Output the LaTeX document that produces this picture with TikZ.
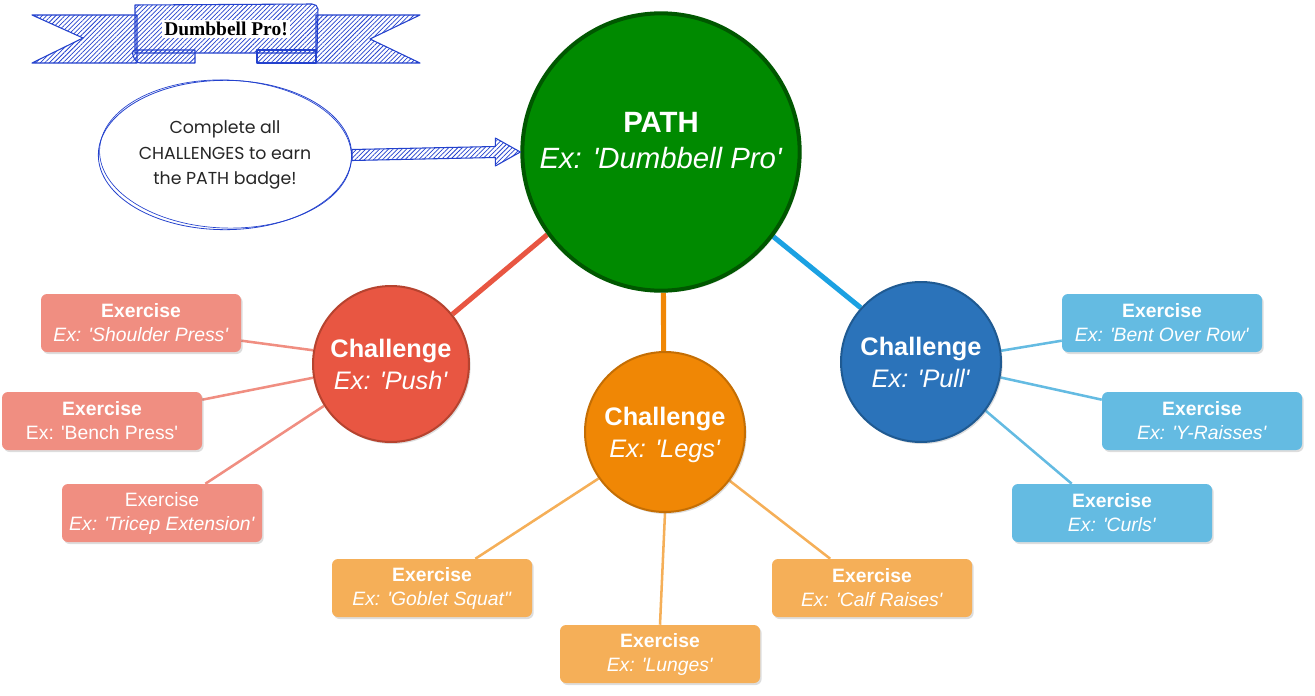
\documentclass[tikz,border=0pt]{standalone}
\usepackage{fontspec}
\newfontfamily\arial{Liberation Sans}
\newfontfamily\timesf{Liberation Serif}
\newfontfamily\handf{Poppins}
\usetikzlibrary{shapes.geometric,patterns.meta,shadows,backgrounds,calc}
\definecolor{pathfill}{HTML}{008A00}
\definecolor{pathdraw}{HTML}{005700}
\definecolor{pushfill}{HTML}{E85642}
\definecolor{pushdraw}{HTML}{B6432F}
\definecolor{legsfill}{HTML}{F08705}
\definecolor{legsdraw}{HTML}{C46E04}
\definecolor{pullfill}{HTML}{2B73BA}
\definecolor{pulldraw}{HTML}{1F5A92}
\definecolor{pullline}{HTML}{1BA1E2}
\definecolor{pushex}{HTML}{F08E81}
\definecolor{legsex}{HTML}{F5AF58}
\definecolor{pullex}{HTML}{64BBE2}
\definecolor{sketch}{RGB}{35,65,205}
\begin{document}
\begin{tikzpicture}[x=0.75pt,y=-0.75pt,font=\arial,
  shad/.style={drop shadow={shadow xshift=1.2pt,shadow yshift=-1.5pt,opacity=0.22,fill=black!60}},
  exbox/.style={rectangle,rounded corners=4.5pt,minimum width=150pt,minimum height=43.5pt,
    text=white,align=center,inner sep=0pt,shad,font=\arial\fontsize{14.5}{18}\selectfont},
  chal/.style={circle,minimum size=120pt,inner sep=0pt,line width=1.5pt,text=white,align=center,
    text depth=0pt,shad,font=\arial\fontsize{19}{24}\selectfont},
  hatch/.style={draw=sketch,line width=0.8pt,line join=round,
    pattern={Lines[angle=45,distance=2.4pt,line width=0.55pt]},pattern color=sketch},
  mainline/.style={line width=3.8pt},
  exline/.style={line width=1.9pt}]
\useasboundingbox (0,0) rectangle (1315,696);

% ---- banner ----
\path[hatch] (32,15) -- (137,15) -- (137,63) -- (32,63) -- (83,38) -- cycle;
\path[hatch] (316,15) -- (420,15) -- (370,39) -- (420,63) -- (316,63) -- cycle;
\path[hatch] (135,50) -- (195,50) -- (195,63) -- (140,63) to[out=180,in=180] (135,50) -- cycle;
\path[hatch] (257,50) -- (316,50) -- (316,63) -- (257,63) -- cycle;
\path[hatch] (135,5) -- (312,4) to[out=0,in=90] (318,9) -- (317,53) -- (135,53) -- cycle;
\node[fill=white,inner sep=1.5pt,font=\timesf\bfseries\fontsize{14.6}{17}\selectfont] (title) at (226,29) {Dumbbell Pro!};

% ---- main nodes ----
\node[circle,minimum size=208pt,inner sep=0pt,fill=pathfill,draw=pathdraw,line width=3pt,
  text=white,align=center,text depth=17pt,shad,font=\arial\fontsize{22}{27}\selectfont] (path) at (661,152)
  {\textbf{PATH}\\\textit{Ex: 'Dumbbell Pro'}};
\node[chal,minimum size=117pt,fill=pushfill,draw=pushdraw] (push) at (391,364)
  {\textbf{Challenge}\\\textit{Ex: 'Push'}};
\node[chal,fill=legsfill,draw=legsdraw,text depth=-3pt] (legs) at (665,432)
  {\textbf{Challenge}\\\textit{Ex: 'Legs'}};
\node[chal,fill=pullfill,draw=pulldraw] (pull) at (921,362)
  {\textbf{Challenge}\\\textit{Ex: 'Pull'}};

% ---- exercises ----
\node[exbox,fill=pushex] (p1) at (141,323) {\textbf{Exercise}\\\textit{Ex: 'Shoulder Press'}};
\node[exbox,fill=pushex] (p2) at (102,421) {\textbf{Exercise}\\Ex: 'Bench Press'};
\node[exbox,fill=pushex] (p3) at (162,513) {Exercise\\\textit{Ex: 'Tricep Extension'}};
\node[exbox,fill=legsex] (l1) at (432,588) {\textbf{Exercise}\\\textit{Ex: 'Goblet Squat"}};
\node[exbox,fill=legsex] (l2) at (660,654) {\textbf{Exercise}\\\textit{Ex: 'Lunges'}};
\node[exbox,fill=legsex] (l3) at (872,588) {\textbf{Exercise}\\\textit{Ex: 'Calf Raises'}};
\node[exbox,fill=pullex] (r1) at (1162,323) {\textbf{Exercise}\\\textit{Ex: 'Bent Over Row'}};
\node[exbox,fill=pullex] (r2) at (1202,421) {\textbf{Exercise}\\\textit{Ex: 'Y-Raisses'}};
\node[exbox,fill=pullex] (r3) at (1112,513) {\textbf{Exercise}\\\textit{Ex: 'Curls'}};

% ---- callout ----
\node[ellipse,draw=sketch,line width=0.6pt,minimum width=190pt,minimum height=112pt,inner sep=0pt,
  align=center,font=\handf\fontsize{13}{19}\selectfont,text=black!85] (ell) at (225,155)
  {Complete all\\CHALLENGES to earn\\the PATH badge!};
\draw[sketch,line width=0.5pt,rotate around={-2:(ell.center)}] ($(ell.center)+(0.5,-1)$) ellipse [x radius=126,y radius=74];
\path[hatch] ($(ell.east)+(0,-5.5)$) -- ($(path.west)+(-25,-5.5)$) -- ($(path.west)+(-25,-14)$)
  -- (path.west) -- ($(path.west)+(-25,14)$) -- ($(path.west)+(-25,5.5)$) -- ($(ell.east)+(0,5.5)$) -- cycle;

% ---- connectors ----
\begin{pgfonlayer}{background}
\draw[mainline,pushfill] (path.-144) -- (push.39);
\draw[mainline,legsfill] (path.-89) -- (legs.91);
\draw[mainline,pullline] (path.-37) -- (pull.138);
\draw[exline,pushex] (p1.-10) -- (push.170);
\draw[exline,pushex] (p2.12) -- (push.-170);
\draw[exline,pushex] (p3.34) -- (push.-148);
\draw[exline,legsex] (l1.34) -- (legs.-145);
\draw[exline,legsex] (l2.north) -- (legs.south);
\draw[exline,legsex] (l3.145) -- (legs.-37);
\draw[exline,pullex] (r1.-170) -- (pull.8);
\draw[exline,pullex] (r2.168) -- (pull.-11);
\draw[exline,pullex] (r3.144) -- (pull.-37);
\end{pgfonlayer}
\end{tikzpicture}
\end{document}
